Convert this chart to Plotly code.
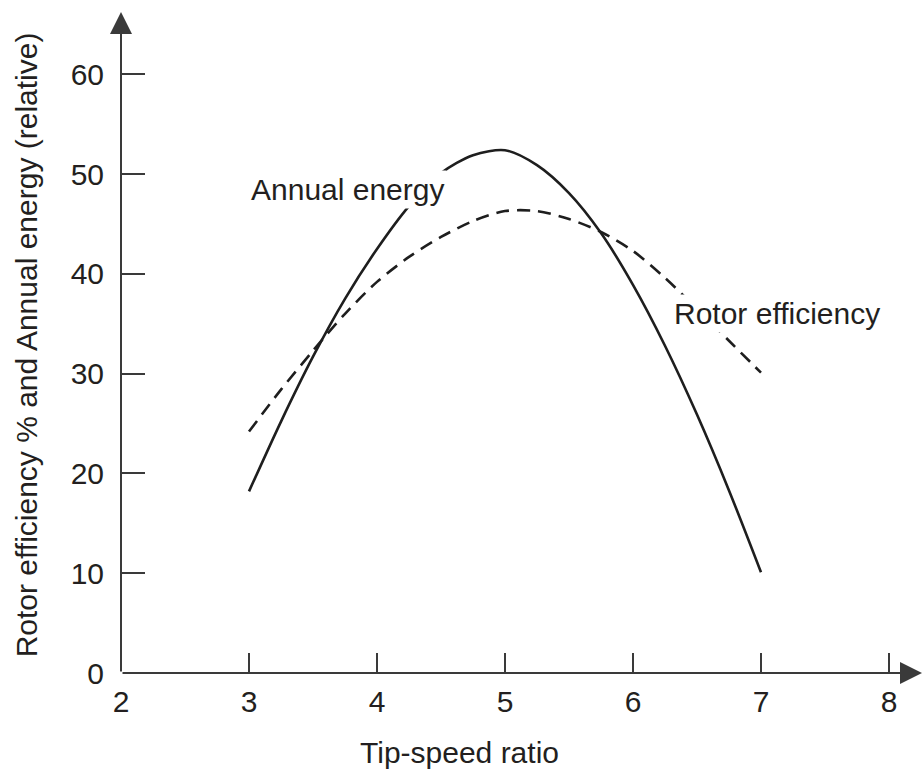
import plotly.graph_objects as go

# Data
tsr = [3.0, 3.25, 3.5, 3.75, 4.0, 4.25, 4.5, 4.75, 5.0, 5.25, 5.5, 5.75, 6.0, 6.25, 6.5, 6.75, 7.0]
annual_energy = [18.2, 25.2, 31.7, 37.5, 42.5, 46.8, 50.1, 51.9, 52.4, 50.9, 48.1, 44.1, 38.9, 32.8, 25.9, 18.3, 10.1]
rotor_efficiency = [24.2, 28.4, 32.3, 36.0, 39.2, 41.7, 43.7, 45.3, 46.3, 46.3, 45.5, 44.2, 42.3, 39.6, 36.5, 33.3, 30.1]

x_ticks = [2, 3, 4, 5, 6, 7, 8]
y_ticks = [0, 10, 20, 30, 40, 50, 60]

x_title = "Tip-speed ratio"
y_title = "Rotor efficiency % and Annual energy (relative)"
label_energy = "Annual energy"
label_rotor = "Rotor efficiency"

FONT = "Liberation Sans, Arial, Helvetica, sans-serif"
TXT = "#231f20"
AX = "#3a3a3a"
FS = 30

X_MIN, X_MAX = 2, 8.258
Y_MIN, Y_MAX = 0, 66.25

fig = go.Figure()

fig.add_trace(go.Scatter(
    x=tsr, y=annual_energy, mode="lines",
    line=dict(color="#1e1e1e", width=2.6, shape="spline", smoothing=0.8),
    showlegend=False, hoverinfo="skip"))

fig.add_trace(go.Scatter(
    x=tsr, y=rotor_efficiency, mode="lines",
    line=dict(color="#1e1e1e", width=2.6, shape="spline", smoothing=0.8, dash="13px,8px"),
    showlegend=False, hoverinfo="skip"))

annotations = [
    # axis arrows
    dict(x=X_MAX, y=0, ax=X_MIN, ay=0, xref="x", yref="y", axref="x", ayref="y",
         showarrow=True, arrowhead=2, arrowsize=2.2, arrowwidth=2, arrowcolor=AX, text=""),
    dict(x=X_MIN, y=Y_MAX, ax=X_MIN, ay=0, xref="x", yref="y", axref="x", ayref="y",
         showarrow=True, arrowhead=2, arrowsize=2.2, arrowwidth=2, arrowcolor=AX, text=""),
    # curve labels
    dict(x=3.77, y=48.5, xref="x", yref="y", text=label_energy, showarrow=False,
         font=dict(family=FONT, size=FS, color=TXT), bgcolor="white", borderpad=2,
         xanchor="center", yanchor="middle"),
    dict(x=7.125, y=36.06, xref="x", yref="y", text=label_rotor, showarrow=False,
         font=dict(family=FONT, size=FS, color=TXT), bgcolor="white", borderpad=2,
         xanchor="center", yanchor="middle"),
    # axis titles
    dict(x=(459 - 121) / 801, y=-0.1204, xref="paper", yref="paper", text=x_title, showarrow=False,
         font=dict(family=FONT, size=FS, color=TXT), xanchor="center", yanchor="middle"),
    dict(x=-0.1175, y=0.497, xref="paper", yref="paper", text=y_title, showarrow=False,
         textangle=-90,
         font=dict(family=FONT, size=FS, color=TXT), xanchor="center", yanchor="middle"),
]

fig.update_layout(
    width=924, height=769,
    margin=dict(l=121, r=2, t=12, b=96),
    paper_bgcolor="white", plot_bgcolor="white",
    font=dict(family=FONT, size=FS, color=TXT),
    annotations=annotations,
    showlegend=False,
)

fig.update_xaxes(
    range=[X_MIN, X_MAX], tickvals=x_ticks, ticktext=[str(v) for v in x_ticks],
    ticks="inside", ticklen=20, tickwidth=2, tickcolor=AX,
    showgrid=False, zeroline=False, showline=False, automargin=False,
    ticklabelstandoff=8,
    tickfont=dict(family=FONT, size=FS, color=TXT),
)
fig.update_yaxes(
    range=[Y_MIN, Y_MAX], tickvals=y_ticks, ticktext=[str(v) for v in y_ticks],
    ticks="inside", ticklen=24, tickwidth=2, tickcolor=AX,
    showgrid=False, zeroline=False, showline=False, automargin=False,
    ticklabelstandoff=16,
    tickfont=dict(family=FONT, size=FS, color=TXT),
)

fig.write_html(
    "out.html",
    config={"displayModeBar": False},
    post_script="document.body.style.margin='0';document.body.style.overflow='hidden';",
)
